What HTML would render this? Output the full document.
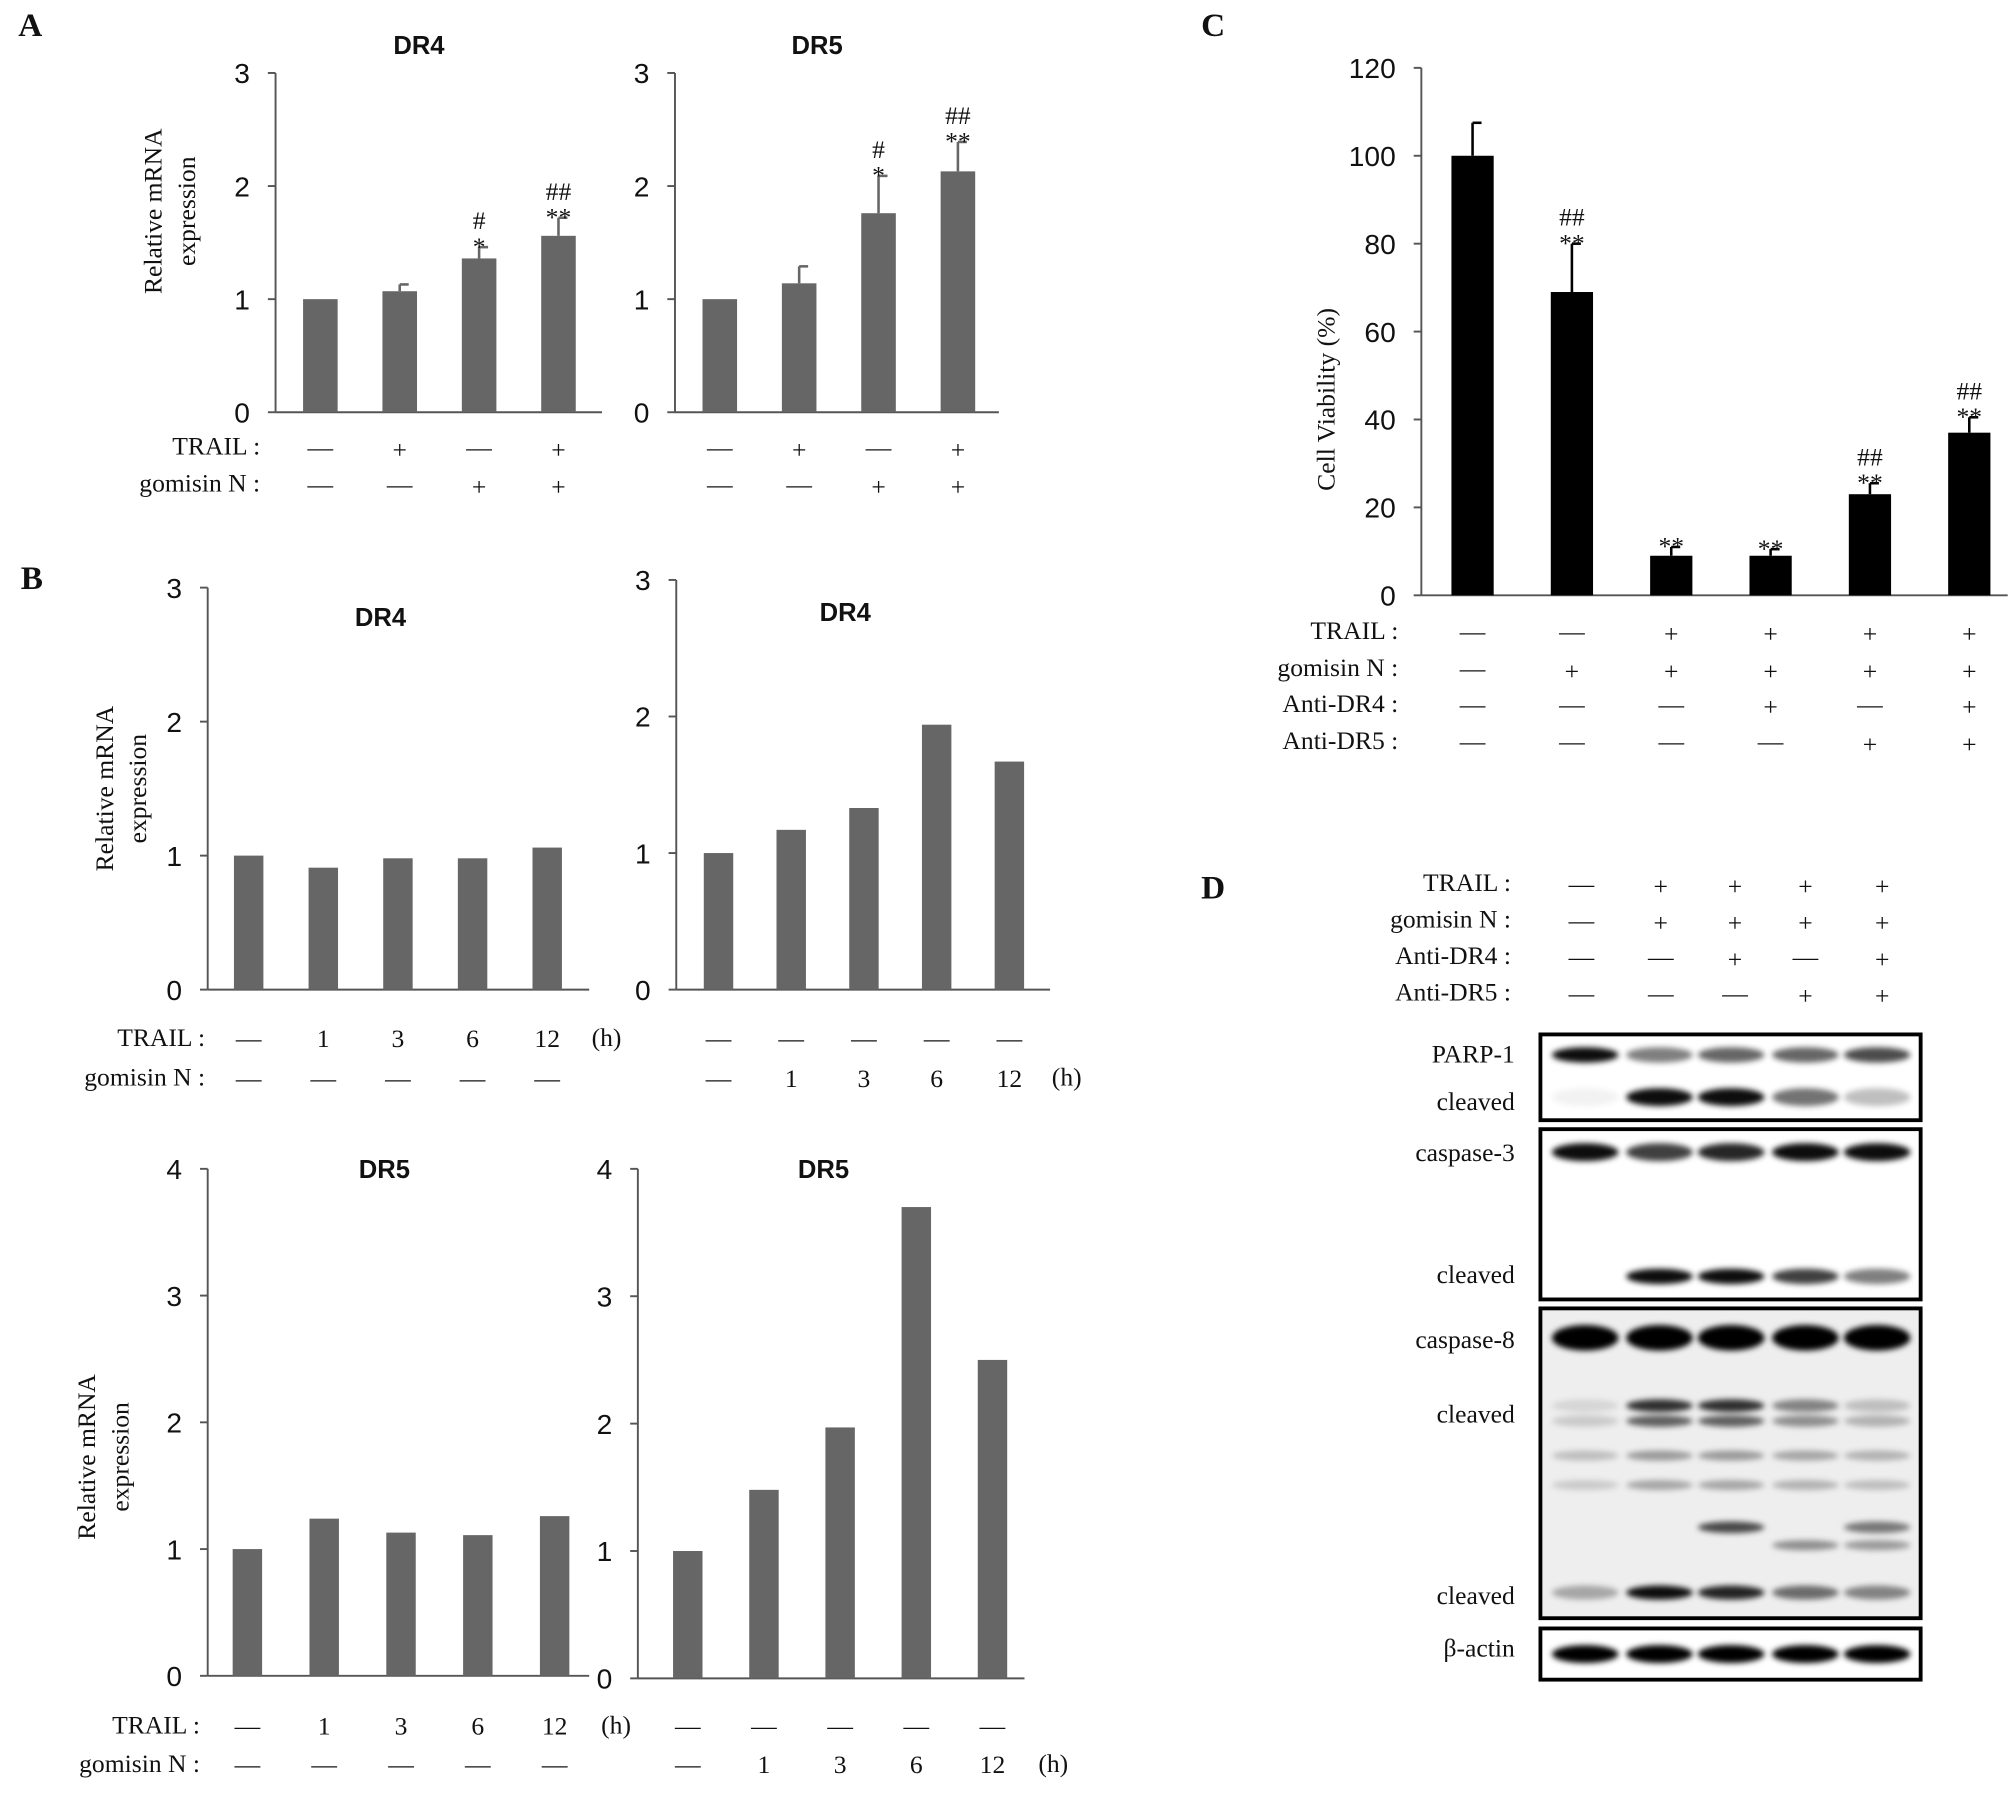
<!DOCTYPE html>
<html><head><meta charset="utf-8">
<style>
html,body{margin:0;padding:0;background:#fff;}
svg{display:block}
text{font-family:"Liberation Serif",serif;fill:#111}
.tk{font-family:"Liberation Sans",sans-serif;font-size:22px}
.lbl{font-size:20px}
.ttl{font-family:"Liberation Sans",sans-serif;font-weight:bold;font-size:20px}
.pl{font-family:"Liberation Serif",serif;font-weight:bold;font-size:26px}
</style></head>
<body>
<svg id="fig" width="2008" height="1800" viewBox="0 0 1568 1406" xmlns="http://www.w3.org/2000/svg">
<defs><filter id="blur" x="-20%" y="-50%" width="140%" height="200%"><feGaussianBlur stdDeviation="2.2"/></filter></defs>
<text class="pl" x="14" y="28">A</text>
<text class="pl" x="16" y="460">B</text>
<text class="pl" x="938" y="28">C</text>
<text class="pl" x="938" y="702">D</text>
</svg>
<script>
// ---- data ----
const aDr4Values=[1,1.07,1.36,1.56];
const aDr4Err=[0,0.06,0.1,0.16];
const aDr4Marks=[["",""],["",""],["#","*"],["##","**"]];
const aDr5Values=[1,1.14,1.76,2.13];
const aDr5Err=[0,0.15,0.33,0.26];
const aDr5Marks=[["",""],["",""],["#","*"],["##","**"]];
const aTicks=[0,1,2,3];
const bDr4TrailValues=[1,0.91,0.98,0.98,1.06];
const bDr4GomValues=[1,1.17,1.33,1.94,1.67];
const bDr5TrailValues=[1,1.24,1.13,1.11,1.26];
const bDr5GomValues=[1,1.48,1.97,3.7,2.5];
const bTicks3=[0,1,2,3];
const bTicks4=[0,1,2,3,4];
const timeLabels=["—","1","3","6","12"];
const cValues=[100,69,9,9,23,37];
const cErr=[7.5,11,2,1.5,2.5,3.5];
const cMarks=[["",""],["##","**"],["","**"],["","**"],["##","**"],["##","**"]];
const cTicks=[0,20,40,60,80,100,120];
// ---- helpers ----
const svg=document.getElementById('fig');
const NS='http://www.w3.org/2000/svg';
function mk(tag,attrs,parent){const e=document.createElementNS(NS,tag);for(const k in attrs)e.setAttribute(k,attrs[k]);(parent||svg).appendChild(e);return e;}
function txt(s,x,y,cls,anchor,parent){const t=mk('text',{x:x,y:y,class:cls,'text-anchor':anchor||'middle'},parent);t.textContent=s;return t;}
function sign(s,x,y,parent){const t=txt(s,x,s==='+'?y+9:y+7,'lbl','middle',parent);t.setAttribute('font-size',s==='+'?'32':'24');return t;}

function chart(o){
  const g=mk('g',{});
  
  
  const ys=v=>o.y0-(v/o.max)*(o.y0-o.yTop);
  const ax=mk('line',{x1:o.ax,y1:o.yTop,x2:o.ax,y2:o.y0,stroke:'#555','stroke-width':1.5},g);
  
  
  const bx=mk('line',{x1:o.ax,y1:o.y0,x2:o.xEnd,y2:o.y0,stroke:'#555','stroke-width':1.5},g);
  
  
  o.ticks.forEach(t=>{
    const y=ys(t);
    mk('line',{x1:o.ax-6,y1:y,x2:o.ax,y2:y,stroke:'#555','stroke-width':1.5},g);
    const l=txt(String(t),o.ax-20,y+8,'tk','end',g);
    
    
  });
  const n=o.values.length;
  o.values.forEach((v,i)=>{
    const cx=o.x0+i*o.step;
    const r=mk('rect',{x:cx-o.bw/2,y:ys(v),width:o.bw,height:o.y0-ys(v),fill:o.color},g);
    
    
    let top=ys(v);
    if(o.err&&o.err[i]>0){
      const ye=ys(v+o.err[i]);
      mk('line',{x1:cx,y1:ys(v),x2:cx,y2:ye,stroke:o.color,'stroke-width':2},g);
      mk('line',{x1:cx,y1:ye,x2:cx+7,y2:ye,stroke:o.color,'stroke-width':2},g);
      top=ye;
    }
    if(o.marks){
      const m=o.marks[i];
      if(m[1]){const s=txt(m[1],cx,top+6,'lbl','middle',g);s.setAttribute('font-size','24');}
      if(m[0]){const s=txt(m[0],cx,top-14,'lbl','middle',g);s.setAttribute('font-size','21');}
    }
  });
  if(o.title){const t=txt(o.title,o.titleX,o.titleY,'ttl','middle',g);}
  if(o.ylabel){
    o.ylabel.forEach((s,k)=>{const t=txt(s,0,0,'lbl','middle',g);t.setAttribute('font-size','21');t.setAttribute('transform','translate('+(o.ylx+k*26)+','+o.yly+') rotate(-90)');});
  }
  o.rows.forEach((row,r)=>{
    const y=o.rowY[r];
    if(row.label){const t=txt(row.label,o.rowLabelX,y+6,'lbl','end',g);}
    row.vals.forEach((s,i)=>{const t=sign(s,o.x0+i*o.step,y,g);});
    if(row.unit){const t=txt('(h)',o.x0+n*o.step-12,y+6,'lbl','middle',g);}
  });
}
const D='—',P='+';
// Panel A
chart({name:'chart-a-dr4',values:aDr4Values,err:aDr4Err,marks:aDr4Marks,ticks:aTicks,max:3,ax:215,y0:322,yTop:57,xEnd:470,x0:250,step:62,bw:27,color:'#666',
 title:'DR4',titleX:327,titleY:42,ylabel:['Relative mRNA','expression'],ylx:126,yly:165,
 rows:[{label:'TRAIL :',vals:[D,P,D,P]},{label:'gomisin N :',vals:[D,D,P,P]}],rowY:[349,378],rowLabelX:203});
chart({name:'chart-a-dr5',values:aDr5Values,err:aDr5Err,marks:aDr5Marks,ticks:aTicks,max:3,ax:527,y0:322,yTop:57,xEnd:780,x0:562,step:62,bw:27,color:'#666',
 title:'DR5',titleX:638,titleY:42,rows:[{vals:[D,P,D,P]},{vals:[D,D,P,P]}],rowY:[349,378],rowLabelX:515});
// Panel B
chart({name:'chart-b-dr4-trail',values:bDr4TrailValues,ticks:bTicks3,max:3,ax:162,y0:773,yTop:459,xEnd:460,x0:194,step:58.3,bw:23,color:'#666',
 title:'DR4',titleX:297,titleY:489,ylabel:['Relative mRNA','expression'],ylx:88,yly:616,
 rows:[{label:'TRAIL :',vals:timeLabels,unit:1},{label:'gomisin N :',vals:[D,D,D,D,D]}],rowY:[811,842],rowLabelX:160});
chart({name:'chart-b-dr4-gomisin',values:bDr4GomValues,ticks:bTicks3,max:3,ax:528,y0:773,yTop:453,xEnd:820,x0:561,step:56.8,bw:23,color:'#666',
 title:'DR4',titleX:660,titleY:485,rows:[{vals:[D,D,D,D,D]},{vals:timeLabels,unit:1}],rowY:[811,842],rowLabelX:520});
chart({name:'chart-b-dr5-trail',values:bDr5TrailValues,ticks:bTicks4,max:4,ax:162,y0:1309,yTop:913,xEnd:460,x0:193,step:60,bw:23,color:'#666',
 title:'DR5',titleX:300,titleY:920,ylabel:['Relative mRNA','expression'],ylx:74,yly:1138,
 rows:[{label:'TRAIL :',vals:timeLabels,unit:1},{label:'gomisin N :',vals:[D,D,D,D,D]}],rowY:[1348,1378],rowLabelX:156});
chart({name:'chart-b-dr5-gomisin',values:bDr5GomValues,ticks:bTicks4,max:4,ax:498,y0:1311,yTop:913,xEnd:800,x0:537,step:59.5,bw:23,color:'#666',
 title:'DR5',titleX:643,titleY:920,rows:[{vals:[D,D,D,D,D]},{vals:timeLabels,unit:1}],rowY:[1348,1378],rowLabelX:490});
// Panel C
chart({name:'chart-c-cell-viability',values:cValues,err:cErr,marks:cMarks,ticks:cTicks,max:120,ax:1110,y0:465,yTop:53,xEnd:1568,x0:1150,step:77.6,bw:33,color:'#000',
 ylabel:['Cell Viability (%)'],ylx:1042,yly:312,
 rows:[{label:'TRAIL :',vals:[D,D,P,P,P,P]},{label:'gomisin N :',vals:[D,P,P,P,P,P]},{label:'Anti-DR4 :',vals:[D,D,D,P,D,P]},{label:'Anti-DR5 :',vals:[D,D,D,D,P,P]}],
 rowY:[493,522,550,579],rowLabelX:1092});
// Panel D (western blot)
const dCols=[1235,1297,1355,1410,1470];
const dRows=[['TRAIL :',[D,P,P,P,P]],['gomisin N :',[D,P,P,P,P]],['Anti-DR4 :',[D,D,P,D,P]],['Anti-DR5 :',[D,D,D,P,P]]];
dRows.forEach((r,k)=>{const y=690+k*28.5;
 const t=txt(r[0],1180,y+6,'lbl','end');
 r[1].forEach((s,i)=>{const v=sign(s,dCols[i],y);});});
const laneX=[1238,1296,1352,1410,1466];
const boxes=[['parp-1-blot',808,875],['caspase-3-blot',882,1015],['caspase-8-blot',1022,1264],['beta-actin-blot',1272,1312]];
boxes.forEach(b=>{const r=mk('rect',{x:1203,y:b[1],width:297,height:b[2]-b[1],fill:b[0]==='caspase-8-blot'?'#eee':'#fff',stroke:'#000','stroke-width':3});});
const bandRows=[
 [824,[0.95,0.5,0.6,0.6,0.7],8],[857,[0.05,0.95,0.95,0.55,0.25],10],
 [900,[0.95,0.75,0.85,0.95,0.95],10],[997,[0,0.95,0.95,0.75,0.5],8],
 [1045,[1,1,1,1,1],16],[1098,[0.1,0.8,0.8,0.45,0.2],6],[1110,[0.15,0.6,0.6,0.4,0.25],5],[1137,[0.2,0.35,0.35,0.3,0.25],4],[1160,[0.15,0.3,0.3,0.25,0.2],4],
 [1193,[0,0,0.7,0,0.5],5],[1207,[0,0,0,0.4,0.35],4],[1244,[0.3,0.95,0.85,0.55,0.45],7],
 [1292,[1,1,1,1,1],10]];
bandRows.forEach(br=>{br[1].forEach((a,i)=>{if(a<=0)return;const e=mk('ellipse',{cx:laneX[i],cy:br[0],rx:26,ry:br[2]/2+2,fill:'#000','fill-opacity':a,filter:'url(#blur)'});});});
const bl=[['PARP-1',830],['cleaved',867],['caspase-3',907],['cleaved',1002],['caspase-8',1053],['cleaved',1111],['cleaved',1253],['β-actin',1294]];
bl.forEach(b=>{const t=txt(b[0],1183,b[1],'lbl','end');});
</script>
</body></html>
